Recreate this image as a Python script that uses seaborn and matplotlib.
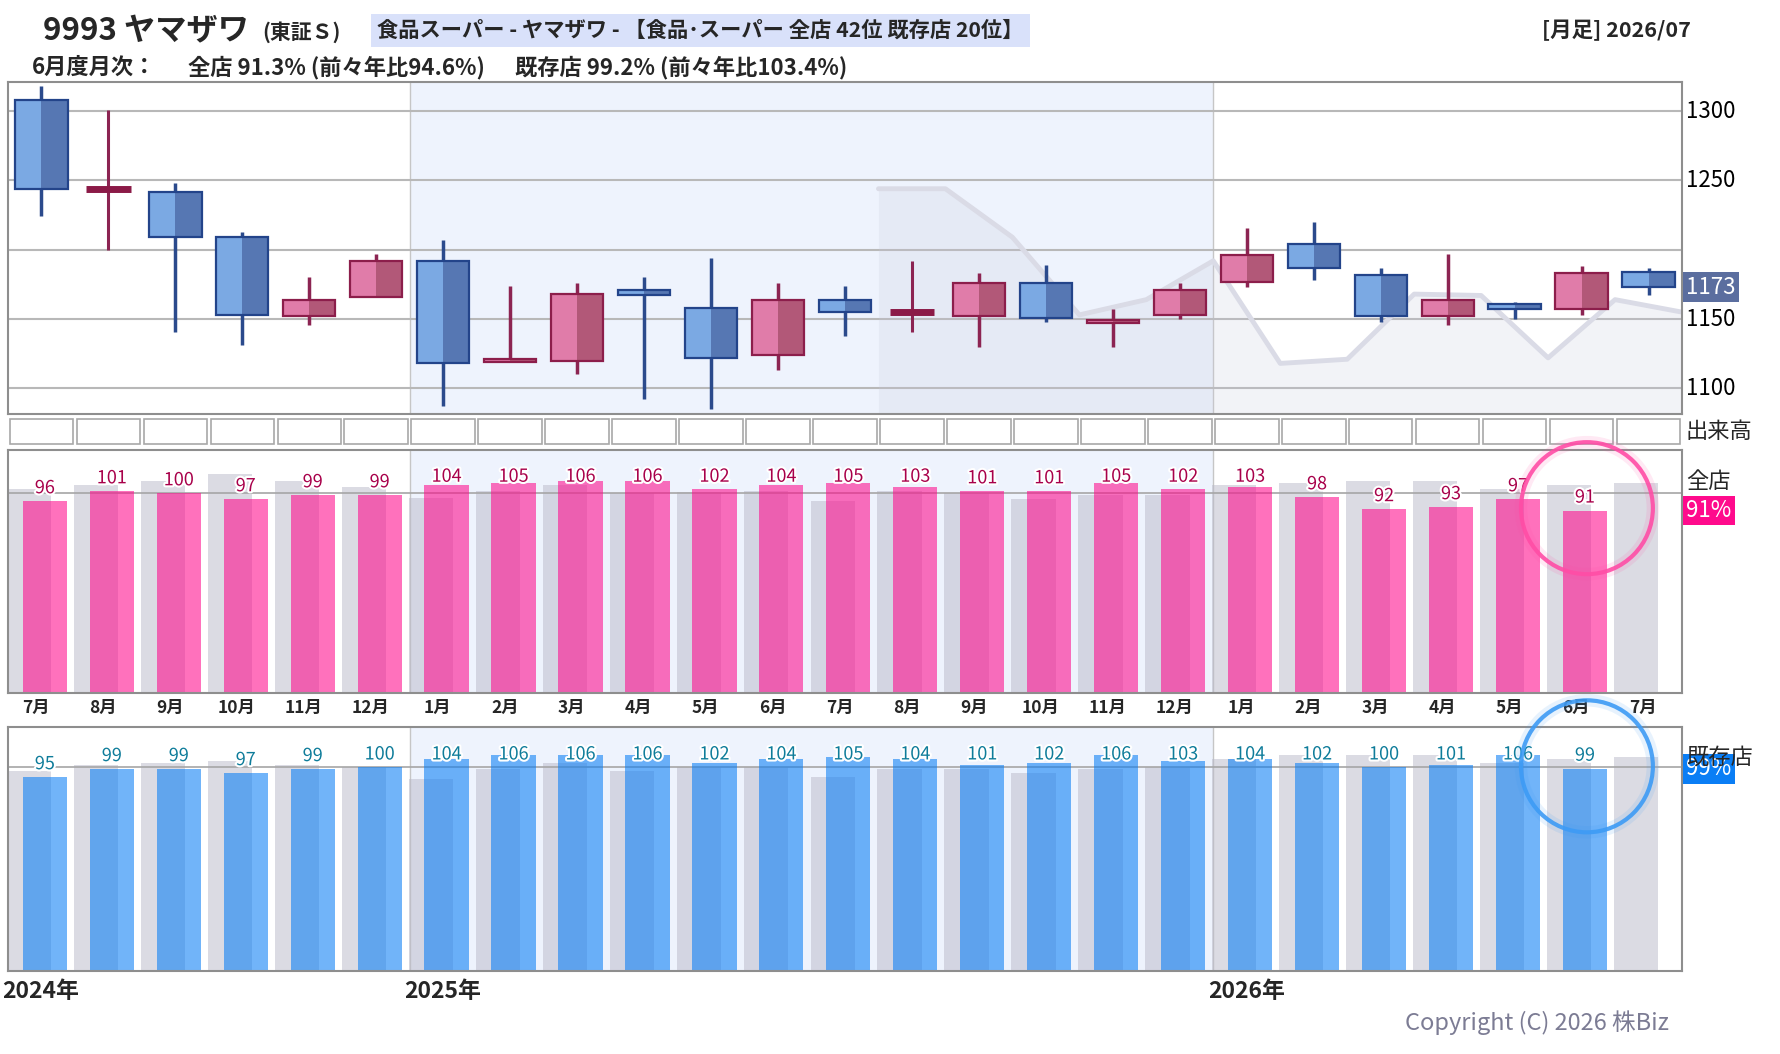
import numpy as np
import matplotlib
matplotlib.use("Agg")
import matplotlib.pyplot as plt
import matplotlib.transforms as mtrans
import matplotlib.patheffects as pe
from matplotlib.patches import Rectangle, Ellipse
import seaborn as sns

# ---- data ----
months = ["7月", "8月", "9月", "10月", "11月", "12月",
          "1月", "2月", "3月", "4月", "5月", "6月", "7月", "8月", "9月", "10月", "11月", "12月",
          "1月", "2月", "3月", "4月", "5月", "6月", "7月"]
years = ["2024年", "2025年", "2026年"]
year_start = [0, 6, 18]

opens = [1308, 1244, 1242, 1209, 1152, 1166, 1192, 1119, 1120, 1171, 1158, 1124, 1164,
         1155, 1152, 1176, 1147, 1153, 1177, 1204, 1182, 1152, 1161, 1157, 1184]
highs = [1318, 1301, 1248, 1213, 1180, 1197, 1207, 1174, 1176, 1180, 1194, 1176, 1174,
         1192, 1183, 1189, 1157, 1176, 1216, 1220, 1187, 1197, 1162, 1188, 1187]
lows = [1224, 1200, 1141, 1131, 1146, 1166, 1087, 1119, 1110, 1092, 1085, 1113, 1138,
        1141, 1130, 1148, 1130, 1150, 1173, 1178, 1148, 1146, 1150, 1153, 1167]
closes = [1244, 1244, 1209, 1153, 1164, 1192, 1118, 1121, 1168, 1167, 1122, 1164, 1155,
          1155, 1176, 1151, 1149, 1171, 1196, 1187, 1152, 1164, 1157, 1183, 1173]
price_ticks = [1100, 1150, 1250, 1300]

# 全店 / 既存店 monthly YoY (%)
zen = [96, 101, 100, 97, 99, 99, 104, 105, 106, 106, 102, 104, 105, 103, 101, 101,
       105, 102, 103, 98, 92, 93, 97, 91.3]
kizon = [95, 99, 99, 97, 99, 100, 104, 106, 106, 106, 102, 104, 105, 104, 101, 102,
         106, 103, 104, 102, 100, 101, 106, 99.2]
# previous-year values for the first 12 months (before the window)
zen_prev_head = [102, 104, 106, 109.5, 106, 103, 97.5, 101, 104, 100, 100.5, 101]
kizon_prev_head = [98, 101, 102, 103, 101, 100, 94, 99, 102, 98, 100, 100]

# ---- style ----
sns.set_style("white")
plt.rcParams['font.family'] = ['Noto Sans CJK JP', 'DejaVu Sans']

W, H = 1780, 1054
fig = plt.figure(figsize=(W / 100, H / 100), dpi=100)


def box(left, top, right, bottom):
    return [left / W, 1 - bottom / H, (right - left) / W, (bottom - top) / H]


ax_c = fig.add_axes(box(8, 82, 1682, 414))
ax_v = fig.add_axes(box(8, 418, 1682, 445))
ax_z = fig.add_axes(box(8, 450, 1682, 693))
ax_k = fig.add_axes(box(8, 727, 1682, 971))

n = len(months)
xs = np.arange(n)
halo = [pe.withStroke(linewidth=3, foreground="white")]
bg_2025 = "#EEF3FD"

for ax in (ax_c, ax_z, ax_k):
    ax.set_xlim(-0.5, n - 0.5)
    ax.set_xticks([])
    ax.set_yticks([])
    for s in ax.spines.values():
        s.set_color("#8E8E8E")
        s.set_linewidth(1.5)
    ax.axvspan(year_start[1] - 0.5, year_start[2] - 0.5, color=bg_2025, zorder=0, lw=0)
    for ys in year_start[1:]:
        ax.axvline(ys - 0.5, color="#C6C6C6", lw=1, zorder=0.5)

# ---- candlesticks ----
ylo, yhi = 1081.5, 1321
ax_c.set_ylim(ylo, yhi)
for g in range(1100, 1301, 50):
    ax_c.axhline(g, color="#B8B8B8", lw=1.5, zorder=1)

# last year's closes, shifted 12 months
prev_x = xs[:13] + 12.5
prev_y = np.array(closes[:13], dtype=float)
ax_c.fill_between(prev_x, prev_y, ylo, color="#C8CADC", alpha=0.22, lw=0, zorder=1.2)
sns.lineplot(x=prev_x, y=prev_y, ax=ax_c, color="#DADBE6", lw=3.5, zorder=1.5)

hw = 0.39
for i in range(n):
    o, h, l, c = opens[i], highs[i], lows[i], closes[i]
    if abs(c - o) < 1:
        ax_c.vlines(i, l, h, color="#8C2452", lw=2.2, zorder=2)
        ax_c.hlines(c, i - 0.33, i + 0.33, color="#8B1A47", lw=5, zorder=3)
        continue
    if c > o:
        light, dark, edge, wick = "#E07CA9", "#B25878", "#8C1E4B", "#8C2452"
    else:
        light, dark, edge, wick = "#7BA9E3", "#5677B3", "#23448A", "#2B4A8C"
    lo, hi = min(o, c), max(o, c)
    ax_c.vlines(i, l, h, color=wick, lw=2.5, zorder=2)
    ax_c.add_patch(Rectangle((i - hw, lo), hw, hi - lo, fc=light, ec="none", zorder=3))
    ax_c.add_patch(Rectangle((i, lo), hw, hi - lo, fc=dark, ec="none", zorder=3))
    ax_c.add_patch(Rectangle((i - hw, lo), 2 * hw, hi - lo, fc="none", ec=edge, lw=1.6, zorder=4))

tr_c = mtrans.blended_transform_factory(fig.transFigure, ax_c.transData)
for p in price_ticks:
    ax_c.text(1686 / W, p, str(p), transform=tr_c, ha="left", va="center",
              fontsize=16, color="black")
ax_c.text(1686 / W, closes[-1], f"{closes[-1]}", transform=tr_c, ha="left", va="center",
          fontsize=16, color="white",
          bbox=dict(boxstyle="square,pad=0.15", fc="#5B6E9F", ec="none"))

# ---- volume strip (empty) ----
ax_v.set_xlim(-0.5, n - 0.5)
ax_v.set_ylim(0, 1)
ax_v.axis("off")
for i in range(n):
    ax_v.add_patch(Rectangle((i - 0.475, 0.02), 0.95, 0.96, fc="white", ec="#A8A8A8", lw=1.2))
fig.text(1686 / W, 1 - 432 / H, "出来高", ha="left", va="center", fontsize=16)


# ---- YoY bar panels ----
def yoy_panel(ax, vals, prev_head, top, color, label_color, name, name_y, circ_color):
    prev = prev_head + vals[:n - len(prev_head)]
    ax.set_ylim(-0.6, top)
    ax.bar(xs - 0.185, prev, width=0.66, color="#B9B9C9", alpha=0.5, lw=0, zorder=1)
    ax.axhline(100, color="#A6A6A6", lw=1.2, zorder=1.5)
    vx = xs[:len(vals)] + 0.05
    ax.bar(vx, vals, width=0.66, color=color, alpha=0.58, lw=0, zorder=2)
    for x, v in zip(vx, vals):
        ax.text(x, min(v + 2.0, top - 18), f"{v:.0f}", ha="center", va="bottom",
                fontsize=13, color=label_color, path_effects=halo, zorder=5)
    tr = mtrans.blended_transform_factory(fig.transFigure, ax.transData)
    fig.text(1686 / W, 1 - name_y / H, name, ha="left", va="center", fontsize=16, zorder=4)
    ax.text(1686 / W, vals[-1], f"{vals[-1]:.0f}%", transform=tr, ha="left", va="center",
            fontsize=16, color="white", zorder=6,
            bbox=dict(boxstyle="square,pad=0.15", fc=color, ec="none"))
    # highlight circle around the latest month
    ax_h_px = ax.get_position().height * H
    r_px = 66
    ch = 2 * r_px * (top + 0.6) / ax_h_px
    cx, cy = len(vals) - 1 + 0.08, vals[-1] + 1.2
    for lw, a in ((9, 0.12), (3, 0.9)):
        ax.add_patch(Ellipse((cx, cy), 2 * r_px / 67, ch, fill=False, ec=circ_color,
                             lw=lw, alpha=a, clip_on=False, zorder=7))


yoy_panel(ax_z, zen, zen_prev_head, 121.8, "#FF0A8C", "#A8004A", "全店", 482, "#FF4DA6")
yoy_panel(ax_k, kizon, kizon_prev_head, 119.8, "#0A7EF5", "#0E7C9A", "既存店", 757, "#3D9BF5")

# month labels
tr_m = mtrans.blended_transform_factory(ax_z.transData, fig.transFigure)
for i, m in enumerate(months):
    ax_z.text(i - 0.08, 1 - 708 / H, m, transform=tr_m, ha="center", va="center",
              fontsize=12.5, fontweight="bold")
tr_y = mtrans.blended_transform_factory(ax_k.transData, fig.transFigure)
for ys, yl in zip(year_start, years):
    ax_k.text(ys - 0.58, 1 - 991 / H, yl, transform=tr_y, ha="left", va="center",
              fontsize=16.5, fontweight="bold")

# ---- header ----
fig.text(43 / W, 1 - 40 / H, "9993 ヤマザワ", ha="left", va="baseline", fontsize=22.5,
         fontweight="bold")
fig.text(262 / W, 1 - 39 / H, "(東証Ｓ)", ha="left", va="baseline", fontsize=15, fontweight="bold")
fig.text(377 / W, 1 - 37 / H, "食品スーパー - ヤマザワ - 【食品･スーパー 全店 42位 既存店 20位】",
         ha="left", va="baseline", fontsize=15.3, fontweight="bold",
         bbox=dict(boxstyle="square,pad=0.3", fc="#D9E1FA", ec="none"))
fig.text(1691 / W, 1 - 37 / H, "[月足] 2026/07", ha="right", va="baseline", fontsize=15.5,
         fontweight="bold")
fig.text(32 / W, 1 - 74 / H, "6月度月次：", ha="left", va="baseline", fontsize=16, fontweight="bold")
fig.text(188 / W, 1 - 74 / H, "全店 91.3% (前々年比94.6%)", ha="left", va="baseline",
         fontsize=16, fontweight="bold")
fig.text(515 / W, 1 - 74 / H, "既存店 99.2% (前々年比103.4%)", ha="left", va="baseline",
         fontsize=16, fontweight="bold")
fig.text(1669 / W, 1 - 1023 / H, "Copyright (C) 2026 株Biz", ha="right", va="center",
         fontsize=17, color="#7C7C94")

fig.savefig("out.png", dpi=100)
